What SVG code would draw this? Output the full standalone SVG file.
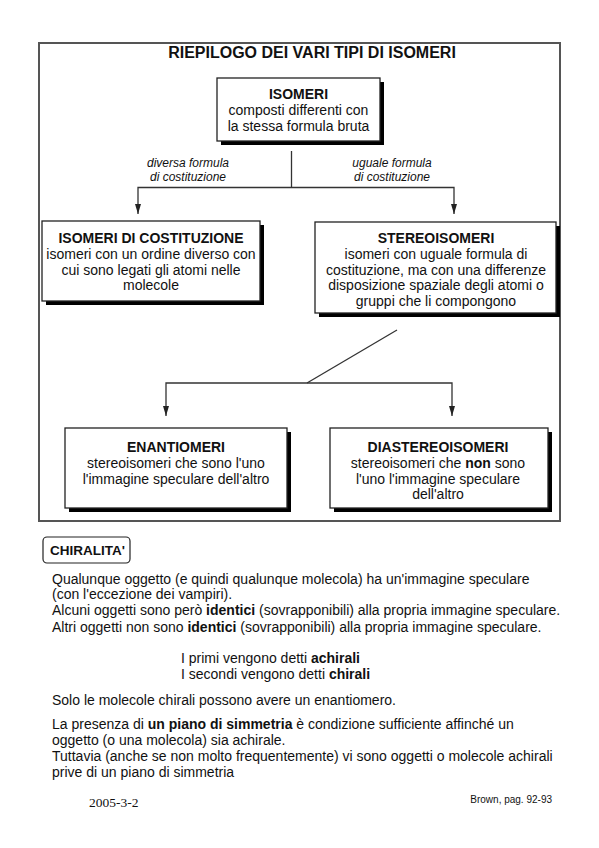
<svg xmlns="http://www.w3.org/2000/svg" width="599" height="848" viewBox="0 0 599 848">
<defs>
<style>
text{font-family:"Liberation Sans",Arial,sans-serif;font-size:14px;fill:#111}
.c{text-anchor:middle}
.b{font-weight:bold}
.i{font-style:italic;font-size:12px}
.box{fill:#fff;stroke:#222;stroke-width:1.3}
.sh{fill:#000}
.ln{fill:none;stroke:#333;stroke-width:1.3}
</style>
<marker id="ah" viewBox="0 0 10 6" refX="10" refY="3" markerWidth="10" markerHeight="6" markerUnits="userSpaceOnUse" orient="auto-start-reverse">
<path d="M0,0 L10,3 L0,6 Z" fill="#222"/>
</marker>
</defs>
<rect width="599" height="848" fill="#fff"/>
<rect x="39" y="43" width="521" height="478" fill="none" stroke="#555" stroke-width="2"/>
<text class="c b" x="312" y="58" style="font-size:16px">RIEPILOGO DEI VARI TIPI DI ISOMERI</text>

<g id="connectors">
<path class="ln" d="M291.5,151 V187.5"/>
<path class="ln" d="M138,214 V187.5 H454 V214" marker-start="url(#ah)" marker-end="url(#ah)"/>
<path class="ln" d="M397,330 L307,383"/>
<path class="ln" d="M166,416 V383 H452 V416" marker-start="url(#ah)" marker-end="url(#ah)"/>
<text class="c i" x="188" y="167">diversa formula</text>
<text class="c i" x="188" y="181">di costituzione</text>
<text class="c i" x="392" y="167">uguale formula</text>
<text class="c i" x="392" y="181">di costituzione</text>
</g>

<g id="isomeri">
<rect class="sh" x="221" y="82" width="163" height="63"/>
<rect class="box" x="217" y="78" width="163" height="63"/>
<text class="c b" x="298.5" y="99">ISOMERI</text>
<text class="c" x="298.5" y="115">composti differenti con</text>
<text class="c" x="298.5" y="131">la stessa formula bruta</text>
</g>

<g id="costituzione">
<rect class="sh" x="46" y="225" width="218" height="80"/>
<rect class="box" x="42" y="221" width="218" height="80"/>
<text class="c b" x="151" y="243">ISOMERI DI COSTITUZIONE</text>
<text class="c" x="151" y="259">isomeri con un ordine diverso con</text>
<text class="c" x="151" y="274.5">cui sono legati gli atomi nelle</text>
<text class="c" x="151" y="290">molecole</text>
</g>

<g id="stereoisomeri">
<rect class="sh" x="319" y="226" width="241" height="91"/>
<rect class="box" x="315" y="222" width="241" height="91"/>
<text class="c b" x="436" y="243">STEREOISOMERI</text>
<text class="c" x="436" y="259">isomeri con uguale formula di</text>
<text class="c" x="436" y="274.5">costituzione, ma con una differenze</text>
<text class="c" x="436" y="290">disposizione spaziale degli atomi o</text>
<text class="c" x="436" y="305.5">gruppi che li compongono</text>
</g>

<g id="enantiomeri">
<rect class="sh" x="69" y="432" width="222" height="80"/>
<rect class="box" x="65" y="428" width="222" height="80"/>
<text class="c b" x="176" y="452">ENANTIOMERI</text>
<text class="c" x="176" y="468">stereoisomeri che sono l'uno</text>
<text class="c" x="176" y="483.5">l'immagine speculare dell'altro</text>
</g>

<g id="diastereoisomeri">
<rect class="sh" x="334" y="432" width="218" height="80"/>
<rect class="box" x="330" y="428" width="218" height="80"/>
<text class="c b" x="438" y="452">DIASTEREOISOMERI</text>
<text class="c" x="438" y="468">stereoisomeri che <tspan class="b">non</tspan> sono</text>
<text class="c" x="438" y="483.5">l'uno l'immagine speculare</text>
<text class="c" x="438" y="499">dell'altro</text>
</g>

<g id="chiralita">
<rect x="43" y="537" width="87" height="26" rx="4" fill="#fff" stroke="#222" stroke-width="1.2"/>
<text class="b" x="50" y="555" style="font-size:13.5px">CHIRALITA'</text>
</g>

<g id="testo">
<text x="52" y="584">Qualunque oggetto (e quindi qualunque molecola) ha un'immagine speculare</text>
<text x="52" y="599">(con l'eccezione dei vampiri).</text>
<text x="52" y="615">Alcuni oggetti sono però <tspan class="b">identici</tspan> (sovrapponibili) alla propria immagine speculare.</text>
<text x="52" y="632">Altri oggetti non sono <tspan class="b">identici</tspan> (sovrapponibili) alla propria immagine speculare.</text>
<text x="181" y="663">I primi vengono detti <tspan class="b">achirali</tspan></text>
<text x="181" y="679">I secondi vengono detti <tspan class="b">chirali</tspan></text>
<text x="52" y="705">Solo le molecole chirali possono avere un enantiomero.</text>
<text x="52" y="729">La presenza di <tspan class="b">un piano di simmetria</tspan> è condizione sufficiente affinché un</text>
<text x="52" y="745">oggetto (o una molecola) sia achirale.</text>
<text x="52" y="761">Tuttavia (anche se non molto frequentemente) vi sono oggetti o molecole achirali</text>
<text x="52" y="777">prive di un piano di simmetria</text>
<text x="89" y="807" style="font-family:'Liberation Serif','Times New Roman',serif;font-size:13.5px">2005-3-2</text>
<text x="552" y="803" text-anchor="end" style="font-size:10px">Brown, pag. 92-93</text>
</g>
</svg>
